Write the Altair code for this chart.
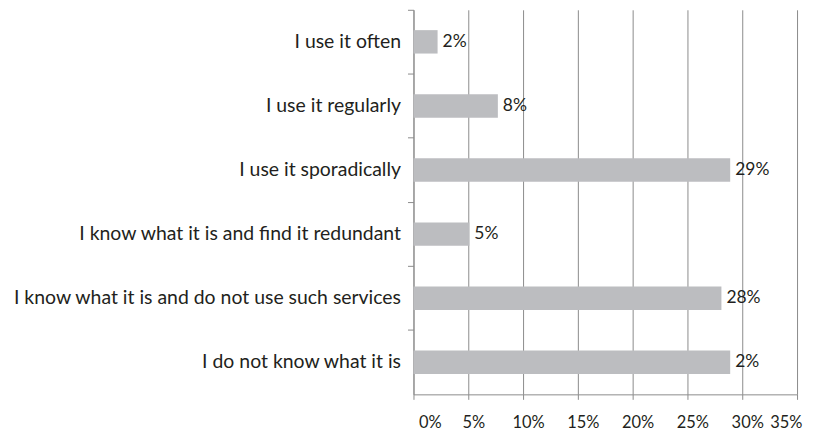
import altair as alt
import pandas as pd

categories = [
    "I use it often",
    "I use it regularly",
    "I use it sporadically",
    "I know what it is and find it redundant",
    "I know what it is and do not use such services",
    "I do not know what it is",
]
values = [2.2, 7.7, 28.9, 5.1, 28.1, 28.9]
labels = ["2%", "8%", "29%", "5%", "28%", "2%"]

df = pd.DataFrame({"cat": categories, "val": values, "lab": labels})

FONT = "Lato"
TXT = "#231f20"
GRID = "#8c8c8c"

y_enc = alt.Y(
    "cat:N",
    sort=categories,
    scale=alt.Scale(paddingInner=0, paddingOuter=0),
    axis=alt.Axis(
        title=None,
        bandPosition=0,
        labelFontSize=19.5,
        labelFont=FONT,
        labelColor=TXT,
        labelPadding=7,
        tickSize=6,
        tickColor=GRID,
        domainColor=GRID,
        grid=False,
        labelLimit=500,
    ),
)

x_enc = alt.X(
    "val:Q",
    scale=alt.Scale(domain=[0, 35], nice=False),
    axis=alt.Axis(
        title=None,
        values=[0, 5, 10, 15, 20, 25, 30, 35],
        labelExpr="datum.value + '%'",
        labelFontSize=16.5,
        labelFont=FONT,
        labelColor=TXT,
        labelPadding=15,
        labelOffset=5,
        labelOverlap=False,
        tickSize=5,
        tickColor=GRID,
        domainColor=GRID,
        grid=True,
        gridColor=GRID,
        gridOpacity=1,
    ),
)

bars = alt.Chart(df).mark_bar(color="#bcbdc0", size=23.5).encode(x=x_enc, y=y_enc)

text = alt.Chart(df).mark_text(
    align="left", baseline="middle", dx=5, fontSize=17.5, font=FONT, color=TXT
).encode(x="val:Q", y=alt.Y("cat:N", sort=categories), text="lab:N")

chart = (
    alt.layer(bars, text)
    .properties(
        width=385,
        height=386,
        autosize=alt.AutoSizeParams(type="none"),
        padding={"left": 407, "top": 1, "right": 10, "bottom": 40},
    )
    .configure_view(stroke=None)
)

chart.save("out.html", embed_options={"renderer": "svg", "actions": False})
